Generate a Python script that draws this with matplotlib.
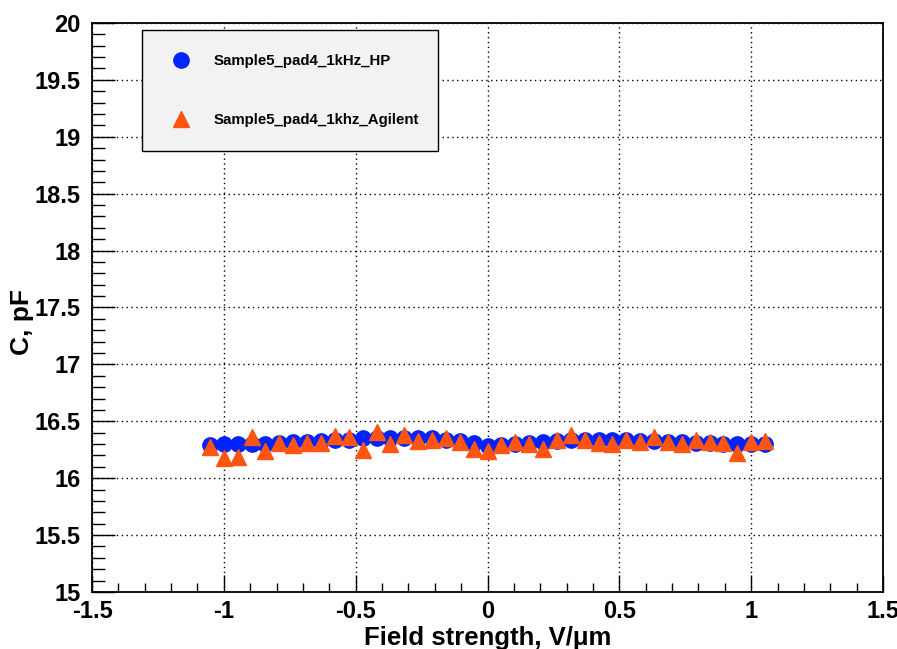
import numpy as np
import matplotlib
matplotlib.use("Agg")
import matplotlib.pyplot as plt
from matplotlib.ticker import MultipleLocator

# Field strength grid (41 points, both series share it)
field = np.arange(-20, 21) / 19.0

cap_hp = [16.29, 16.30, 16.30, 16.30, 16.30, 16.31, 16.32, 16.32, 16.33, 16.34,
          16.34, 16.35, 16.35, 16.35, 16.35, 16.35, 16.35, 16.34, 16.33, 16.31,
          16.28, 16.29, 16.30, 16.31, 16.32, 16.33, 16.34, 16.34, 16.34, 16.34,
          16.34, 16.33, 16.33, 16.32, 16.32, 16.31, 16.31, 16.30, 16.30, 16.30,
          16.30]

cap_agilent = [16.27, 16.18, 16.19, 16.36, 16.24, 16.31, 16.29, 16.31, 16.31, 16.37,
               16.36, 16.25, 16.41, 16.30, 16.38, 16.33, 16.34, 16.35, 16.32, 16.26,
               16.24, 16.29, 16.32, 16.30, 16.26, 16.34, 16.38, 16.34, 16.31, 16.30,
               16.34, 16.32, 16.36, 16.32, 16.30, 16.34, 16.32, 16.31, 16.22, 16.32,
               16.33]

label_hp = "Sample5_pad4_1kHz_HP"
label_agilent = "Sample5_pad4_1khz_Agilent"

plt.rcParams["font.family"] = ["Liberation Sans", "DejaVu Sans"]
plt.rcParams["font.weight"] = "bold"

fig = plt.figure(figsize=(8.97, 6.49), dpi=100)
ax = fig.add_axes([0.1026, 0.0878, 0.8818, 0.8768])

# HP series: black connecting line + blue circles
ax.plot(field, cap_hp, color="black", lw=1, zorder=2)
ax.plot(field, cap_hp, "o", color="#0022ff", ms=11, mec="#0022ff",
        label=label_hp, zorder=3)
ax.plot(field, cap_agilent, "^", color="#ff5511", ms=11.5, mec="#ff5511",
        label=label_agilent, zorder=4)

ax.set_xlim(-1.5, 1.5)
ax.set_ylim(15, 20)
ax.xaxis.set_minor_locator(MultipleLocator(0.1))
ax.yaxis.set_minor_locator(MultipleLocator(0.1))
ax.set_xticks(np.arange(-1.5, 1.51, 0.5))
ax.set_xticklabels(["-1.5", "-1", "-0.5", "0", "0.5", "1", "1.5"])
ax.set_yticks(np.arange(15, 20.01, 0.5))
ax.set_yticklabels(["15", "15.5", "16", "16.5", "17", "17.5", "18", "18.5",
                    "19", "19.5", "20"])

ax.tick_params(axis="both", which="both", direction="in", top=False, right=False,
               width=1, labelsize=17)
ax.tick_params(axis="x", which="major", length=12, pad=6)
ax.tick_params(axis="x", which="minor", length=6.5)
ax.tick_params(axis="y", which="major", length=16.5, pad=8)
ax.tick_params(axis="y", which="minor", length=9.5)

ax.grid(True, which="major", color="black", linestyle=(0, (1, 2.5)), lw=1)
for s in ax.spines.values():
    s.set_linewidth(1.3)

ax.set_xlabel("Field strength, V/\u03bcm", fontsize=18.5, fontweight="bold",
              labelpad=2)
ax.set_ylabel("C, pF", fontsize=19, fontweight="bold")
ax.yaxis.set_label_coords(-0.074, 0.475)

leg = ax.legend(loc="upper left", bbox_to_anchor=(0.0632, 0.9877 - 0.211, 0.374, 0.211),
                mode="expand", borderaxespad=0, fontsize=10.8, frameon=True,
                fancybox=False, framealpha=1, facecolor="#f2f2f2",
                edgecolor="black", borderpad=1.6, labelspacing=3.0,
                handlelength=2, handletextpad=1.2, numpoints=1)
leg.get_frame().set_linewidth(1)

fig.savefig("out.png", dpi=100)
